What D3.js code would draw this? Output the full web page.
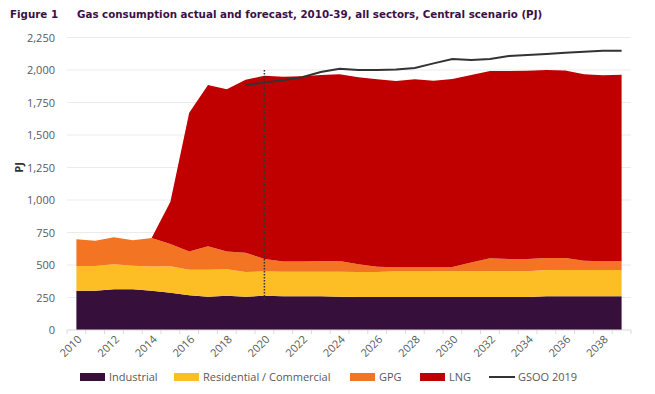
<!DOCTYPE html>
<html>
<head>
<meta charset="utf-8">
<script src="https://cdn.jsdelivr.net/npm/d3@7"></script>
<style>
  body { margin: 0; background: #fff; }
  text { font-family: "Open Sans", sans-serif; }
</style>
</head>
<body>
<svg id="chart" width="655" height="394"></svg>
<script>
// values (PJ)
var years = d3.range(2010, 2040);
var industrial = [302, 302, 313, 314, 302, 287, 267, 256, 264, 256, 264, 260, 260, 260, 256,
                  253, 253, 253, 253, 253, 253, 253, 253, 253, 253, 260, 260, 260, 260, 260];
var residential = [190, 190, 192, 181, 187, 203, 197, 208, 203, 190, 187, 189, 189, 189, 193,
                   193, 193, 198, 198, 198, 198, 198, 198, 198, 198, 202, 202, 202, 202, 202];
var gpg = [206, 195, 208, 195, 218, 172, 139, 180, 136, 149, 95, 77, 77, 82, 82,
           59, 41, 31, 31, 31, 33, 69, 100, 95, 95, 92, 92, 71, 66, 66];
var lng = [0, 0, 0, 0, 0, 325, 1069, 1241, 1249, 1330, 1409, 1423, 1426, 1431, 1436,
           1439, 1441, 1433, 1446, 1436, 1446, 1442, 1441, 1446, 1449, 1446, 1443, 1434, 1431, 1436];
var gsooYears = d3.range(2019, 2040);
var gsoo = [1885, 1903, 1921, 1944, 1985, 2010, 2000, 2000, 2003, 2015, 2051, 2085, 2077,
            2085, 2108, 2115, 2123, 2133, 2141, 2149, 2149];
var yTicks = [0, 250, 500, 750, 1000, 1250, 1500, 1750, 2000, 2250];
var seriesNames = ["Industrial", "Residential / Commercial", "GPG", "LNG"];
var seriesColors = ["#36103b", "#fdbe25", "#f37524", "#c00000"];

var svg = d3.select("#chart");
var plotLeft = 67, plotRight = 631, plotTop = 37.5, plotBottom = 330;

var x = d3.scaleBand().domain(years).range([plotLeft, plotRight]);
var y = d3.scaleLinear().domain([0, 2250]).range([plotBottom, plotTop]);
var cx = function(yr) { return x(yr) + x.bandwidth() / 2; };

var rows = years.map(function(yr, i) {
  return {year: yr, "Industrial": industrial[i], "Residential / Commercial": residential[i],
          "GPG": gpg[i], "LNG": lng[i]};
});
var stacked = d3.stack().keys(seriesNames)(rows);

// title
svg.append("text").attr("x", 10).attr("y", 18)
  .style("font-family", "'DejaVu Sans', sans-serif").style("font-weight", "bold")
  .style("font-size", "10.3px").style("fill", "#3b1046").text("Figure 1");
svg.append("text").attr("x", 77).attr("y", 18)
  .style("font-family", "'DejaVu Sans', sans-serif").style("font-weight", "bold")
  .style("font-size", "10.3px").style("fill", "#3b1046")
  .text("Gas consumption actual and forecast, 2010-39, all sectors, Central scenario (PJ)");

// gridlines
svg.append("g").selectAll("line").data(yTicks.slice(1)).join("line")
  .attr("x1", plotLeft).attr("x2", plotRight)
  .attr("y1", function(d) { return y(d); }).attr("y2", function(d) { return y(d); })
  .attr("stroke", "#ebebeb").attr("stroke-width", 1);

// y tick labels
svg.append("g").selectAll("text").data(yTicks).join("text")
  .attr("x", 55).attr("y", function(d) { return y(d) + 4; })
  .attr("text-anchor", "end")
  .style("font-size", "11px").style("fill", "#595959")
  .text(function(d) { return d3.format(",")(d); });

svg.append("text")
  .attr("transform", "translate(23," + y(1250) + ") rotate(-90)")
  .attr("text-anchor", "middle")
  .style("font-size", "11px").style("font-weight", "bold").style("fill", "#333")
  .text("PJ");

// stacked areas
var area = d3.area()
  .x(function(d) { return cx(d.data.year); })
  .y0(function(d) { return y(d[0]); })
  .y1(function(d) { return y(d[1]); });

svg.append("g").selectAll("path").data(stacked).join("path")
  .attr("d", area)
  .attr("fill", function(d, i) { return seriesColors[i]; });

// x axis
svg.append("line").attr("x1", plotLeft).attr("x2", plotRight).attr("y1", plotBottom).attr("y2", plotBottom)
  .attr("stroke", "#d9d9d9");
svg.append("g").selectAll("line").data(years.concat([2040])).join("line")
  .attr("x1", function(d) { return plotLeft + (d - 2010) * x.step(); })
  .attr("x2", function(d) { return plotLeft + (d - 2010) * x.step(); })
  .attr("y1", plotBottom).attr("y2", plotBottom + 4)
  .attr("stroke", "#d9d9d9");

svg.append("g").selectAll("text").data(years.filter(function(d) { return d % 2 === 0; })).join("text")
  .attr("transform", function(d) { return "translate(" + (cx(d) + 6) + "," + (plotBottom + 10) + ") rotate(-45)"; })
  .attr("text-anchor", "end")
  .style("font-size", "11px").style("fill", "#595959")
  .text(function(d) { return d; });

// forecast marker
svg.append("line")
  .attr("x1", cx(2020)).attr("x2", cx(2020))
  .attr("y1", y(2000)).attr("y2", y(230))
  .attr("stroke", "#333").attr("stroke-width", 1.5).attr("stroke-dasharray", "1.5,1.5");

// GSOO 2019 line
var line = d3.line()
  .x(function(d, i) { return cx(gsooYears[i]); })
  .y(function(d) { return y(d); });
svg.append("path").datum(gsoo)
  .attr("d", line).attr("fill", "none")
  .attr("stroke", "#333").attr("stroke-width", 2);

// legend
var legendX = [80, 174, 350, 420];
var lg = svg.append("g");
seriesNames.forEach(function(name, i) {
  lg.append("rect").attr("x", legendX[i]).attr("y", 373).attr("width", 25).attr("height", 8)
    .attr("fill", seriesColors[i]);
  lg.append("text").attr("x", legendX[i] + 29).attr("y", 381)
    .style("font-size", "11px").style("fill", "#595959").text(name);
});
lg.append("line").attr("x1", 489).attr("x2", 515).attr("y1", 377).attr("y2", 377)
  .attr("stroke", "#333").attr("stroke-width", 2);
lg.append("text").attr("x", 518).attr("y", 381)
  .style("font-size", "11px").style("fill", "#595959").text("GSOO 2019");
</script>
</body>
</html>
